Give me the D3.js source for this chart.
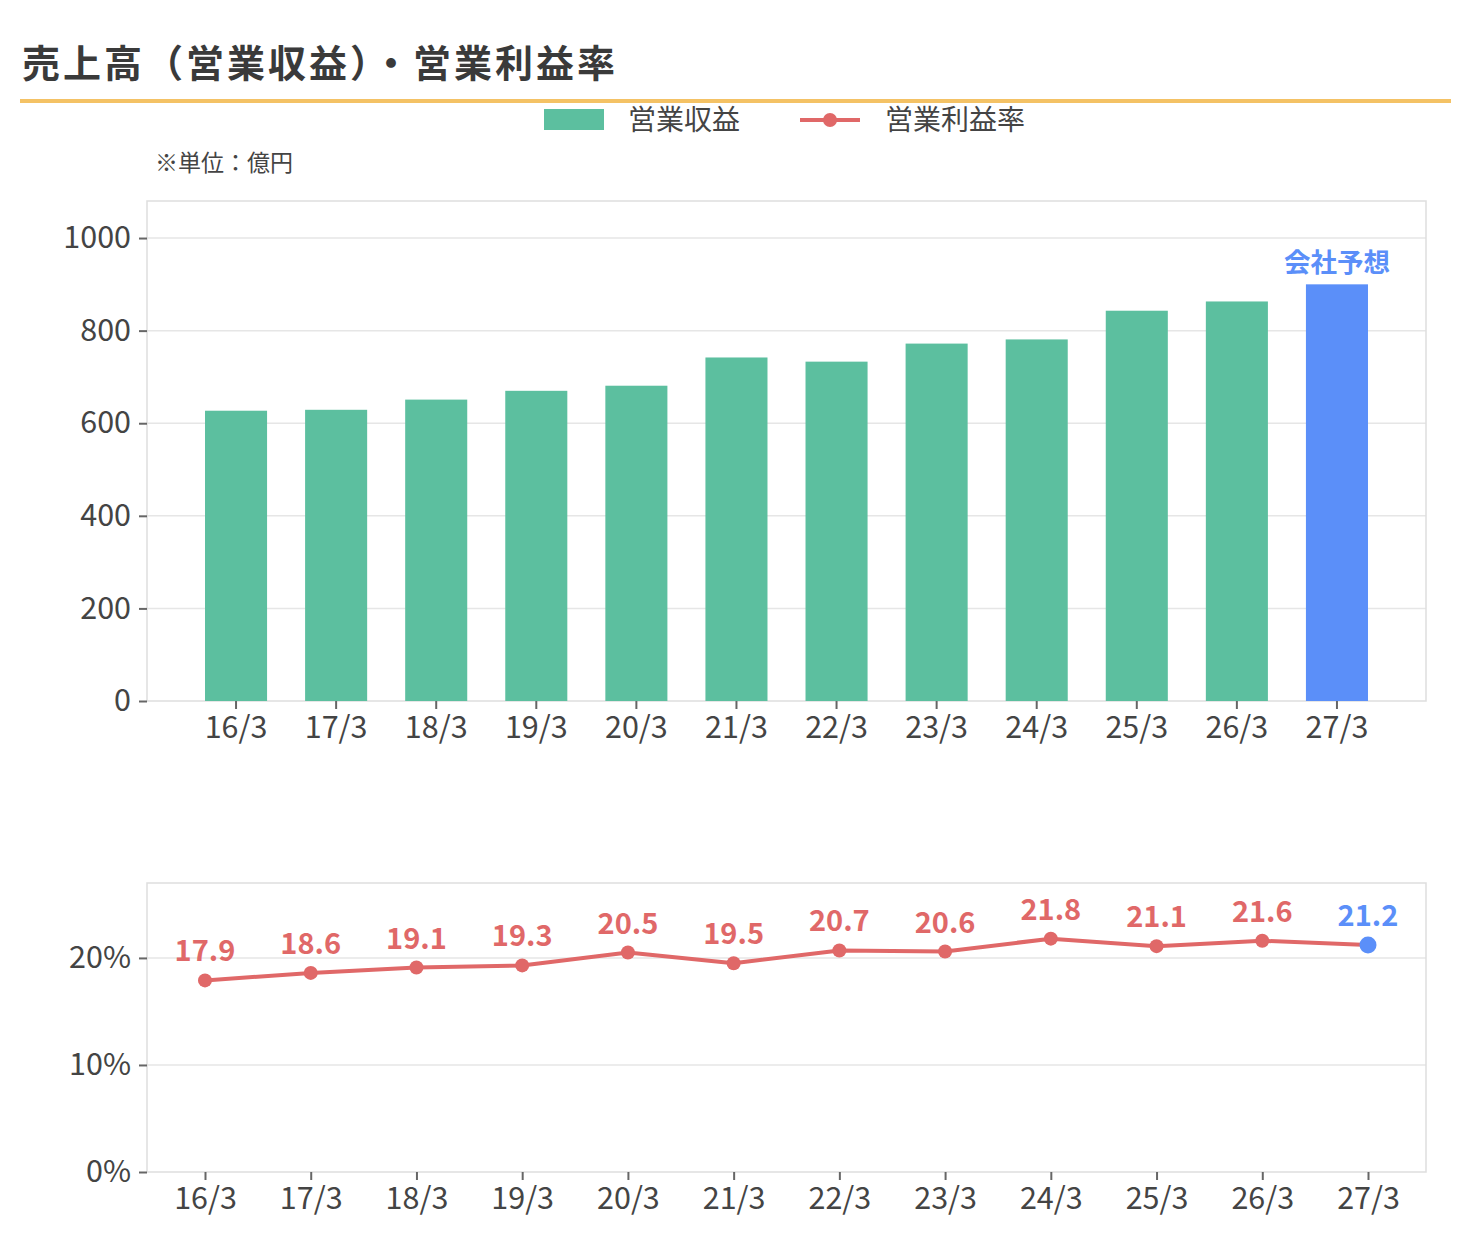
<!DOCTYPE html>
<html>
<head>
<meta charset="utf-8">
<script src="https://cdn.jsdelivr.net/npm/d3@7"></script>
<style>
  body { margin: 0; background: #fff; font-family: "Noto Sans CJK JP", "Noto Sans", sans-serif; }
  svg text { font-family: "Noto Sans CJK JP", "Noto Sans", sans-serif; }
</style>
</head>
<body>
<svg id="chart" width="1470" height="1260"></svg>
<script>
// データ
const periods = ["16/3", "17/3", "18/3", "19/3", "20/3", "21/3", "22/3", "23/3", "24/3", "25/3", "26/3", "27/3"];
const revenue = [627, 629, 651, 670, 681, 742, 733, 772, 781, 843, 863, 900];
const margin = [17.9, 18.6, 19.1, 19.3, 20.5, 19.5, 20.7, 20.6, 21.8, 21.1, 21.6, 21.2];
const forecastIndex = 11;
const revenueTicks = [0, 200, 400, 600, 800, 1000];
const marginTicks = [0, 10, 20];

const GREEN = "#5cbf9f";
const BLUE = "#5b8ff9";
const RED = "#e06868";
const TEXT = "#444";

const svg = d3.select("#chart");

// タイトル
svg.append("text")
  .attr("x", 22).attr("y", 77)
  .attr("font-size", 38).attr("font-weight", "bold").attr("fill", "#3a3a3a")
  .attr("letter-spacing", 3)
  .text("売上高（営業収益）・営業利益率");

svg.append("rect")
  .attr("x", 20).attr("y", 99).attr("width", 1431).attr("height", 4)
  .attr("fill", "#f4c265");

// 凡例
const legend = svg.append("g");
legend.append("rect").attr("x", 544).attr("y", 109).attr("width", 60).attr("height", 21).attr("fill", GREEN);
legend.append("text").attr("x", 628).attr("y", 130).attr("font-size", 28).attr("fill", TEXT).text("営業収益");
legend.append("line").attr("x1", 800).attr("x2", 860).attr("y1", 120).attr("y2", 120)
  .attr("stroke", RED).attr("stroke-width", 4);
legend.append("circle").attr("cx", 830).attr("cy", 120).attr("r", 7).attr("fill", RED);
legend.append("text").attr("x", 885).attr("y", 130).attr("font-size", 28).attr("fill", TEXT).text("営業利益率");

svg.append("text")
  .attr("x", 155).attr("y", 171)
  .attr("font-size", 23).attr("fill", TEXT)
  .text("※単位：億円");

// 上段：棒グラフ
const box1 = { x0: 147, x1: 1426, y0: 201, y1: 701 };

const x = d3.scaleBand()
  .domain(periods)
  .range([186, 1387])
  .paddingInner(0.38)
  .paddingOuter(0.19);

const y = d3.scaleLinear().domain([0, 1080]).range([box1.y1, box1.y0]);

const g1 = svg.append("g");

g1.append("g")
  .selectAll("line")
  .data(revenueTicks.filter(d => d > 0))
  .join("line")
  .attr("x1", box1.x0).attr("x2", box1.x1)
  .attr("y1", d => y(d)).attr("y2", d => y(d))
  .attr("stroke", "#e6e6e6").attr("stroke-width", 1.5);

g1.append("rect")
  .attr("x", box1.x0).attr("y", box1.y0)
  .attr("width", box1.x1 - box1.x0).attr("height", box1.y1 - box1.y0)
  .attr("fill", "none").attr("stroke", "#dedede").attr("stroke-width", 1.5);

g1.selectAll(".bar")
  .data(revenue)
  .join("rect")
  .attr("class", "bar")
  .attr("x", (d, i) => x(periods[i]))
  .attr("width", x.bandwidth())
  .attr("y", d => y(d))
  .attr("height", d => y(0) - y(d))
  .attr("fill", (d, i) => i === forecastIndex ? BLUE : GREEN);

g1.append("text")
  .attr("x", x(periods[forecastIndex]) + x.bandwidth() / 2)
  .attr("y", y(revenue[forecastIndex]) - 12)
  .attr("text-anchor", "middle")
  .attr("font-size", 26.5).attr("font-weight", "bold").attr("fill", BLUE)
  .text("会社予想");

const yAxis1 = g1.append("g")
  .attr("transform", `translate(${box1.x0},0)`)
  .call(d3.axisLeft(y).tickValues(revenueTicks).tickFormat(d3.format("d")).tickSize(8).tickPadding(8));
yAxis1.select(".domain").remove();

const xAxis1 = g1.append("g")
  .attr("transform", `translate(0,${box1.y1})`)
  .call(d3.axisBottom(x).tickSize(8).tickPadding(7));
xAxis1.select(".domain").remove();

// 下段：折れ線
const box2 = { x0: 147, x1: 1426, y0: 883, y1: 1172 };

const xp = d3.scalePoint().domain(periods).range([box2.x0 + 58, box2.x1 - 58]);
const y2 = d3.scaleLinear().domain([0, 27]).range([box2.y1, box2.y0]);

const g2 = svg.append("g");

g2.append("g")
  .selectAll("line")
  .data(marginTicks.filter(d => d > 0))
  .join("line")
  .attr("x1", box2.x0).attr("x2", box2.x1)
  .attr("y1", d => y2(d)).attr("y2", d => y2(d))
  .attr("stroke", "#e6e6e6").attr("stroke-width", 1.5);

g2.append("rect")
  .attr("x", box2.x0).attr("y", box2.y0)
  .attr("width", box2.x1 - box2.x0).attr("height", box2.y1 - box2.y0)
  .attr("fill", "none").attr("stroke", "#dedede").attr("stroke-width", 1.5);

const line = d3.line()
  .x((d, i) => xp(periods[i]))
  .y(d => y2(d));

g2.append("path")
  .datum(margin)
  .attr("d", line)
  .attr("fill", "none")
  .attr("stroke", RED)
  .attr("stroke-width", 4)
  .attr("stroke-linejoin", "round");

g2.selectAll(".pt")
  .data(margin)
  .join("circle")
  .attr("class", "pt")
  .attr("cx", (d, i) => xp(periods[i]))
  .attr("cy", d => y2(d))
  .attr("r", (d, i) => i === forecastIndex ? 8.5 : 7)
  .attr("fill", (d, i) => i === forecastIndex ? BLUE : RED);

g2.selectAll(".lbl")
  .data(margin)
  .join("text")
  .attr("class", "lbl")
  .attr("x", (d, i) => xp(periods[i]))
  .attr("y", d => y2(d) - 19)
  .attr("text-anchor", "middle")
  .attr("font-size", 29).attr("font-weight", "bold")
  .attr("fill", (d, i) => i === forecastIndex ? BLUE : RED)
  .text(d => d.toFixed(1));

const yAxis2 = g2.append("g")
  .attr("transform", `translate(${box2.x0},0)`)
  .call(d3.axisLeft(y2).tickValues(marginTicks).tickFormat(d => d + "%").tickSize(8).tickPadding(8));
yAxis2.select(".domain").remove();

const xAxis2 = g2.append("g")
  .attr("transform", `translate(0,${box2.y1})`)
  .call(d3.axisBottom(xp).tickSize(8).tickPadding(7));
xAxis2.select(".domain").remove();

// 軸の体裁
svg.selectAll(".tick line").attr("stroke", "#666").attr("stroke-width", 2);
svg.selectAll(".tick text")
  .attr("font-size", 30.5)
  .attr("fill", TEXT)
  .style("font-family", "'Noto Sans CJK JP', sans-serif");
</script>
</body>
</html>
